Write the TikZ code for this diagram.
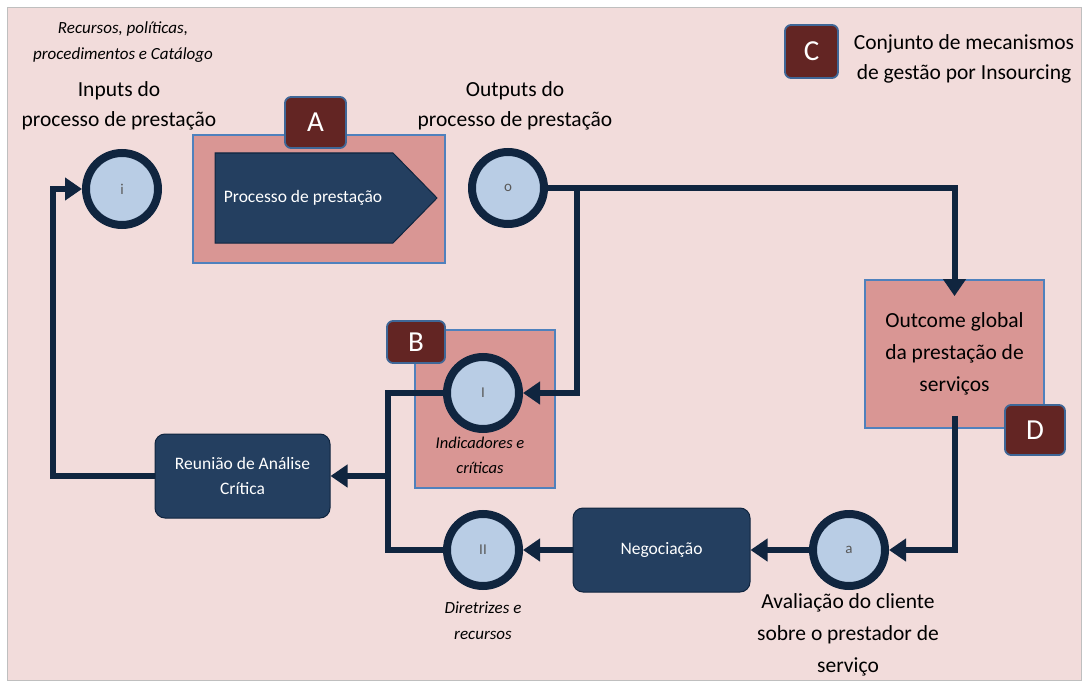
\documentclass[tikz,border=0pt]{standalone}
\usepackage{fontspec}
\setmainfont{Carlito}
\usetikzlibrary{arrows.meta,calc}
\definecolor{bgpink}{HTML}{F2DCDB}
\definecolor{boxpink}{HTML}{D99694}
\definecolor{navy}{HTML}{243F60}
\definecolor{dark}{HTML}{10253F}
\definecolor{lblue}{HTML}{B9CDE5}
\definecolor{edgeblue}{HTML}{4F81BD}
\definecolor{wine}{HTML}{632523}
\tikzset{
  pinkbox/.style={draw=edgeblue, line width=1.8pt, fill=boxpink, inner sep=0pt},
  letterbox/.style={draw=edgeblue!80!black, line width=1.8pt, fill=wine, rounded corners=6pt, inner sep=0pt, text=white, font=\fontsize{29}{30}\selectfont},
  navybox/.style={draw=dark, line width=1pt, fill=navy, rounded corners=10pt, inner sep=0pt, text=white, align=center, font=\fontsize{17.5}{25}\selectfont},
  pt/.style={circle, draw=dark, line width=8pt, fill=lblue, minimum size=72pt, inner sep=0pt, text=black!65, font=\fontsize{15}{18}\selectfont},
  conn/.style={draw=dark, line width=6pt},
  tip/.style={-{Triangle[length=17pt,width=22pt]}},
  bigtxt/.style={align=center, font=\fontsize{21.5}{30}\selectfont},
  ittxt/.style={align=center, font=\itshape\fontsize{17}{26}\selectfont},
}
\begin{document}
\begin{tikzpicture}[x=1pt,y=-1pt]
\useasboundingbox (0,0) rectangle (1084,682);
\fill[white] (0,0) rectangle (1084,682);
\draw[fill=bgpink, draw=black!25, line width=1pt] (7,8) rectangle (1081,680);

% texts
\node[ittxt] (rec) at (123,42) {Recursos, políticas,\\procedimentos e Catálogo};
\node[bigtxt] (inp) at (119,106) {Inputs do\\processo de prestação};
\node[bigtxt] (outp) at (515,106) {Outputs do\\processo de prestação};
\node[bigtxt, font=\fontsize{21.5}{30}\selectfont] (conj) at (964,59) {Conjunto de mecanismos\\de gestão por Insourcing};
\node[letterbox, minimum width=53pt, minimum height=53pt] (C) at (811.5,51.5) {C};

% A
\node[pinkbox, minimum width=252pt, minimum height=128pt] (boxA) at (319,199) {};
\node[letterbox, minimum width=61pt, minimum height=51pt] (A) at (315.5,122.5) {A};
\draw[fill=navy, draw=dark, line width=1pt] (215,153) -- (393,153) -- (437,198) -- (393,243) -- (215,243) -- cycle;
\node[text=white, font=\fontsize{17.5}{20}\selectfont] (proc) at (303,198) {Processo de prestação};

% B
\node[pinkbox, minimum width=140pt, minimum height=158pt] (boxB) at (485,409) {};
\node[letterbox, minimum width=58pt, minimum height=42pt] (B) at (416,342) {B};

% Outcome
\node[pinkbox, minimum width=179pt, minimum height=148pt, align=center, font=\fontsize{21.5}{32}\selectfont] (outc) at (954.5,354) {Outcome global\\da prestação de\\serviços};

% rounded boxes
\node[navybox, minimum width=175pt, minimum height=84pt] (reun) at (242.5,476) {Reunião de Análise\\Crítica};
\node[navybox, minimum width=177pt, minimum height=84pt] (neg) at (661.5,550) {Negociação};

% points
\node[pt] (i) at (122,189) {i};
\node[pt] (o) at (508,188) {o};
\node[pt] (I) at (483,393) {I};
\node[pt] (II) at (483,550) {II};
\node[pt] (a) at (849,550) {a};

% connectors
\coordinate (br) at (577,188);
\coordinate (j1) at (388,476);
\coordinate (j2) at (53,476);
\draw[conn, tip] (o.east) -| ($(outc.north)+(0,17)$);
\draw[conn, tip] (br) |- (I.east);
\draw[conn] (I.west) -| (j1) |- (II.west);
\draw[conn, tip] (j1) -- (reun.east);
\draw[conn, tip] (reun.west) -- (j2) |- (i.west);
\draw[conn, tip] ($(outc.south)+(0,-13)$) |- (a.east);
\draw[conn, tip] (a.west) -- (neg.east);
\draw[conn, tip] (neg.west) -- (II.east);

\node[letterbox, minimum width=60pt, minimum height=50pt] (D) at (1035,430) {D};

\node[ittxt, font=\itshape\fontsize{16.5}{25}\selectfont] (ind) at (480,455) {Indicadores e\\críticas};
\node[ittxt] (dir) at (483,621) {Diretrizes e\\recursos};
\node[bigtxt, font=\fontsize{21.5}{32}\selectfont] (aval) at (848,635) {Avaliação do cliente\\sobre o prestador de\\serviço};
\end{tikzpicture}
\end{document}
